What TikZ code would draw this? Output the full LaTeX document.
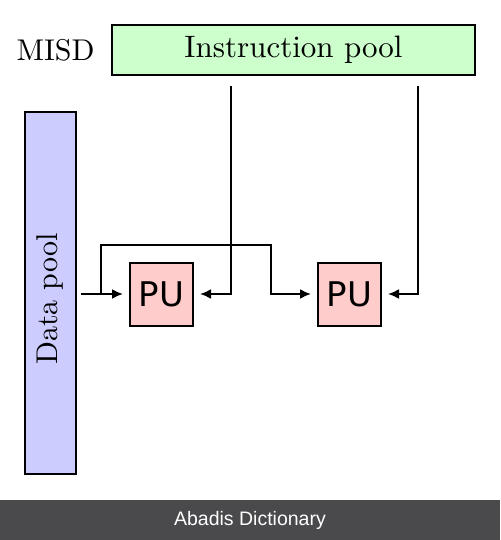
\documentclass[tikz,border=0pt]{standalone}
\usepackage{fontspec}
\setmainfont{lmroman10-regular.otf}
\newfontfamily\pufont{DejaVu Sans}
\newfontfamily\bannerfont{Liberation Sans}
\usetikzlibrary{arrows.meta}
\begin{document}
\begin{tikzpicture}[x=1pt,y=-1pt,
  pool/.style={draw=black,line width=2pt,inner sep=0pt},
  pubox/.style={draw=black,line width=2pt,fill={rgb,255:red,255;green,204;blue,204},minimum width=63pt,minimum height=63pt,inner sep=0pt,font=\pufont\fontsize{34}{38}\selectfont},
  conn/.style={line width=2pt,-{Latex[length=11pt,width=10pt]},shorten >=6pt}]
\useasboundingbox (0,0) rectangle (500,540);
\fill[white] (0,0) rectangle (500,540);
\node[pool,fill={rgb,255:red,204;green,255;blue,204},minimum width=363pt,minimum height=50pt,font=\fontsize{31}{34}\selectfont] (ip) at (293.5,50) {Instruction pool};
\node[font=\fontsize{30}{32}\selectfont] (misd) at (55.5,50) {MISD};
\node[pool,fill={rgb,255:red,204;green,204;blue,255},minimum width=51pt,minimum height=361pt] (dp) at (50,293) {};
\node[rotate=90,font=\fontsize{30}{32}\selectfont] (dpl) at (50,299) {Data pool};
\node[pubox] (pu1) at (161.5,294) {PU};
\node[pubox] (pu2) at (349.5,294) {PU};
\coordinate (s1) at (231,86);
\coordinate (s2) at (418,86);
\coordinate (d0) at (81,294);
\draw[conn] (s1) |- (pu1.east);
\draw[conn] (s2) |- (pu2.east);
\draw[conn] (d0) -- (pu1.west);
\draw[conn] (101,294) -- (101,245) -- (271,245) -- (271,294) -- (pu2.west);
\fill[fill={rgb,255:red,74;green,73;blue,75}] (0,500) rectangle (500,540);
\node[text=white,font=\bannerfont\fontsize{19.5}{22}\selectfont] (ban) at (250,520) {Abadis Dictionary};
\end{tikzpicture}
\end{document}
